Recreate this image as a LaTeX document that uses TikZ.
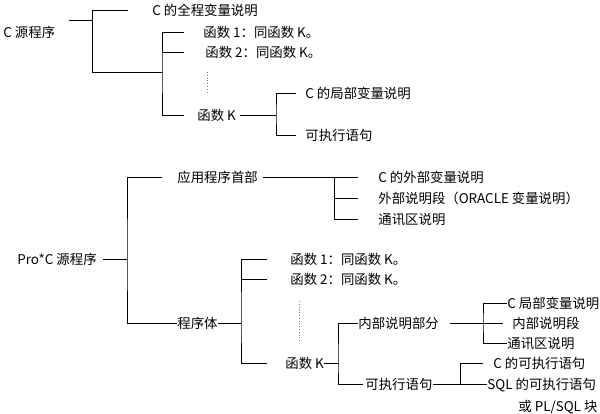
\documentclass[tikz,border=0pt]{standalone}
\usepackage{fontspec}
\newfontfamily\cjk{Noto Sans CJK SC}
\usepackage{tikz}

\begin{document}
\begin{tikzpicture}[x=1pt,y=-1pt,line width=0.8pt,
    txt/.style={anchor=west,inner sep=0pt,text height=11.8pt,text depth=1.6pt,
                font=\cjk\fontsize{13.4}{15}\selectfont}]
    \useasboundingbox (0,0) rectangle (600,414);

    % C 源程序
    \node[txt] (csrc) at (3,32) {C 源程序};
    \node[txt] (cglob) at (152,10) {C 的全程变量说明};
    \node[txt] (f1) at (203,32) {函数 1：同函数 K。};
    \node[txt] (f2) at (205,52) {函数 2：同函数 K。};
    \node[txt] (fk) at (197,115) {函数 K};
    \node[txt] (cloc) at (305,93) {C 的局部变量说明};
    \node[txt] (cexe) at (305,135) {可执行语句};
    \coordinate (a0) at (69,20);
    \coordinate (a1) at (92,20);
    \coordinate (a2) at (92,72);
    \coordinate (a3) at (162,72);
    \coordinate (k1) at (276,115);
    \coordinate (d1) at (207,72);
    \coordinate (d2) at (207,93);
    \draw (a0) -- (a1);
    \draw ([xshift=-24]cglob.west) -| (a2) -- (a3);
    \draw ([xshift=-19]f1.west) -| (a3) |- ([xshift=-13]fk.west);
    \draw ([xshift=-21]f2.west) -- (f2.west -| a3);
    \draw[dotted,gray] (d1) -- (d2);
    \draw ([xshift=4]fk.east) -- (k1);
    \draw ([xshift=-9]cloc.west) -| (k1) |- ([xshift=-9]cexe.west);

    % Pro*C 源程序
    \node[txt] (proc) at (17,259) {Pro*C 源程序};
    \node[txt] (head) at (177,177) {应用程序首部};
    \node[txt] (cext) at (378,177) {C 的外部变量说明};
    \node[txt] (oext) at (378,198) {外部说明段（ORACLE 变量说明）};
    \node[txt] (comm) at (378,219) {通讯区说明};
    \node[txt] (body) at (177,323) {程序体};
    \node[txt] (g1) at (290,259) {函数 1：同函数 K。};
    \node[txt] (g2) at (290,279) {函数 2：同函数 K。};
    \node[txt] (gk) at (285,363) {函数 K};
    \node[txt] (inner) at (358,323) {内部说明部分};
    \node[txt] (exec) at (365,384) {可执行语句};
    \node[txt] (cl) at (507,303) {C 局部变量说明};
    \node[txt] (ins) at (512,323) {内部说明段};
    \node[txt] (cm) at (507,343) {通讯区说明};
    \node[txt] (cx) at (493,363) {C 的可执行语句};
    \node[txt] (sql) at (487,384) {SQL 的可执行语句};
    \node[txt] (plsql) at (518,406) {或 PL/SQL 块};
    \coordinate (p1) at (127,259);
    \coordinate (h1) at (334,177);
    \coordinate (g0) at (241,323);
    \coordinate (k0) at (338,363);
    \coordinate (n0) at (483,323);
    \coordinate (e0) at (460,384);
    \coordinate (d3) at (299,301);
    \coordinate (d4) at (299,342);
    \draw ([xshift=-24]p1) -- (p1);
    \draw ([xshift=-15]head.west) -| (p1) |- (body.west);
    \draw ([xshift=5]head.east) -- ([xshift=-20]cext.west);
    \draw (h1) |- ([xshift=-20]comm.west);
    \draw (h1 |- oext.west) -- ([xshift=-20]oext.west);
    \draw (body.east) -- (g0);
    \draw ([xshift=-23]g1.west) -| (g0) |- ([xshift=-18]gk.west);
    \draw ([xshift=-23]g2.west) -- (g2.west -| g0);
    \draw[dotted,gray] (d3) -- (d4);
    \draw (gk.east) -- (k0);
    \draw (inner.west) -| (k0) |- ([xshift=-2]exec.west);
    \draw ([xshift=11]inner.east) -- ([xshift=-9]ins.west);
    \draw (cl.west) -| (n0) |- (cm.west);
    \draw (exec.east) -- (sql.west);
    \draw (e0) |- ([xshift=-10]cx.west);
\end{tikzpicture}
\end{document}
